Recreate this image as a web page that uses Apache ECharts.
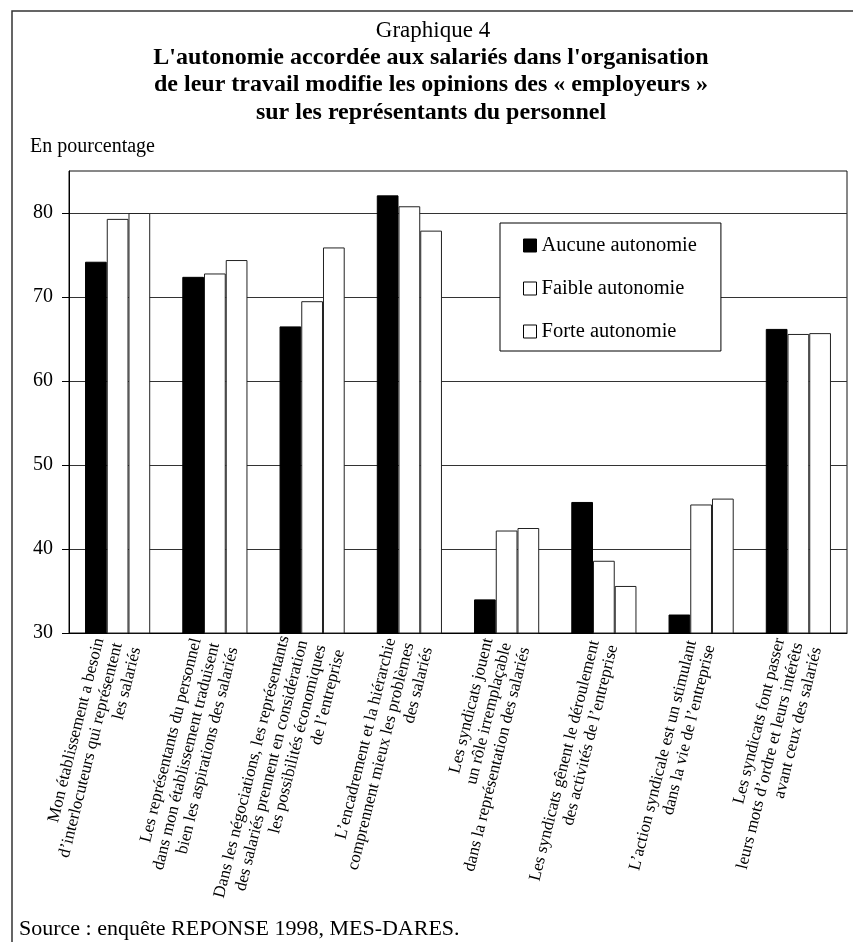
<!DOCTYPE html>
<html>
<head>
<meta charset="utf-8">
<title>Graphique 4</title>
<script src="https://cdn.jsdelivr.net/npm/echarts@6/dist/echarts.min.js"></script>
<style>
    html, body { margin: 0; padding: 0; background: #fff; }
    #main { width: 853px; height: 942px; }
</style>
</head>
<body>
<div id="main"></div>
<script>
    // categories (x axis labels, line breaks as in the print)
    const categories = [
        'Mon établissement a besoin\nd’interlocuteurs qui représentent\nles salariés',
        'Les représentants du personnel\ndans mon établissement traduisent\nbien les aspirations des salariés',
        'Dans les négociations, les représentants\ndes salariés prennent en considération\nles possibilités économiques\nde l’entreprise',
        'L’encadrement et la hiérarchie\ncomprennent mieux les problèmes\ndes salariés',
        'Les syndicats jouent\nun rôle irremplaçable\ndans la représentation des salariés',
        'Les syndicats gênent le déroulement\ndes activités de l’entreprise',
        'L’action syndicale est un stimulant\ndans la vie de l’entreprise',
        'Les syndicats font passer\nleurs mots d’ordre et leurs intérêts\navant ceux des salariés'
    ];

    const seriesNames = ['Aucune autonomie', 'Faible autonomie', 'Forte autonomie'];

    // values (en pourcentage)
    const aucune = [74.2, 72.4, 66.5, 82.1, 34.0, 45.6, 32.2, 66.2];
    const faible = [79.3, 72.8, 69.5, 80.8, 42.2, 38.6, 45.3, 65.6];
    const forte  = [80.0, 74.4, 75.9, 77.9, 42.5, 35.6, 46.0, 65.7];

    const yTicks = [30, 40, 50, 60, 70, 80];

    const serif = '"Liberation Serif", "DejaVu Serif", serif';

    const myChart = echarts.init(document.getElementById('main'));

    const option = {
        backgroundColor: '#fff',
        animation: false,
        textStyle: { fontFamily: serif, color: '#000' },
        graphic: [
            // cadre (haut et gauche seulement)
            {
                type: 'polyline',
                shape: { points: [[12, 942], [12, 11], [853, 11]] },
                style: { stroke: '#333', lineWidth: 1.5, fill: null }
            },
            {
                type: 'text', x: 433, y: 31,
                style: {
                    text: 'Graphique 4', font: '23px ' + serif,
                    textAlign: 'center', textVerticalAlign: 'middle', fill: '#000'
                }
            },
            {
                type: 'text', x: 431, y: 85,
                style: {
                    text: 'L\'autonomie accordée aux salariés dans l\'organisation\nde leur travail modifie les opinions des « employeurs »\nsur les représentants du personnel',
                    font: 'bold 24px ' + serif, lineHeight: 27.5,
                    textAlign: 'center', textVerticalAlign: 'middle', fill: '#000'
                }
            },
            {
                type: 'text', x: 30, y: 147,
                style: {
                    text: 'En pourcentage', font: '20px ' + serif,
                    textAlign: 'left', textVerticalAlign: 'middle', fill: '#000'
                }
            },
            {
                type: 'text', x: 19, y: 929,
                style: {
                    text: 'Source : enquête REPONSE 1998, MES-DARES.', font: '22px ' + serif,
                    textAlign: 'left', textVerticalAlign: 'middle', fill: '#000'
                }
            }
        ],
        legend: {
            orient: 'vertical',
            left: 500,
            top: 223,
            padding: [12, 24, 9, 23],
            itemGap: 22,
            itemWidth: 13,
            itemHeight: 13,
            icon: 'rect',
            borderColor: '#000',
            borderWidth: 1,
            backgroundColor: '#fff',
            itemStyle: { borderColor: '#000', borderWidth: 1 },
            textStyle: { fontFamily: serif, fontSize: 20.5, lineHeight: 20, color: '#000' },
            data: seriesNames
        },
        grid: {
            left: 69,
            right: 6,
            top: 171,
            bottom: 309,
            show: true,
            borderColor: '#111',
            borderWidth: 1
        },
        xAxis: {
            type: 'category',
            data: categories,
            axisLine: { lineStyle: { color: '#000', width: 1 } },
            axisTick: { show: false },
            axisLabel: {
                interval: 0,
                rotate: 76,
                margin: 10,
                fontFamily: serif,
                fontSize: 17,
                lineHeight: 19,
                color: '#000'
            }
        },
        yAxis: {
            type: 'value',
            min: 30,
            max: 85,
            interval: 10,
            axisLine: { show: true, lineStyle: { color: '#000', width: 1 } },
            axisTick: {
                show: true, length: 7, customValues: yTicks,
                lineStyle: { color: '#000' }
            },
            axisLabel: {
                customValues: yTicks,
                margin: 16,
                fontFamily: serif,
                fontSize: 20,
                color: '#000'
            },
            splitLine: { show: true, lineStyle: { color: '#333', width: 1 } }
        },
        series: [
            {
                name: seriesNames[0], type: 'bar', data: aucune,
                barGap: '0%', barCategoryGap: '33%',
                itemStyle: { color: '#000', borderColor: '#000', borderWidth: 1 }
            },
            {
                name: seriesNames[1], type: 'bar', data: faible,
                barGap: '0%', barCategoryGap: '33%',
                itemStyle: { color: '#fff', borderColor: '#222', borderWidth: 1 }
            },
            {
                name: seriesNames[2], type: 'bar', data: forte,
                barGap: '0%', barCategoryGap: '33%',
                itemStyle: { color: '#fff', borderColor: '#222', borderWidth: 1 }
            }
        ]
    };

    myChart.setOption(option);
</script>
</body>
</html>
